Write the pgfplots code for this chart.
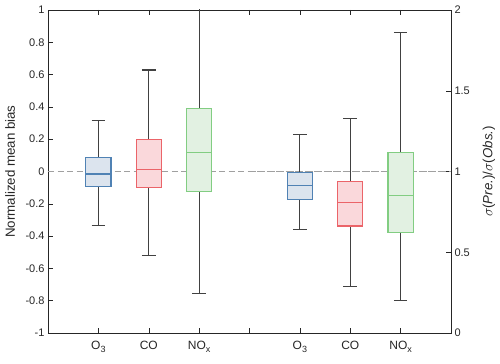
\documentclass[border=0pt]{standalone}
\usepackage{pgfplots}
\pgfplotsset{compat=1.18}
\usepgfplotslibrary{statistics}
\usepackage{fontspec}
\setmainfont{Liberation Sans}
\definecolor{bEdge}{RGB}{80,130,180}
\definecolor{bFill}{RGB}{220,228,238}
\definecolor{rEdge}{RGB}{235,100,105}
\definecolor{rFill}{RGB}{250,216,219}
\definecolor{gEdge}{RGB}{130,205,130}
\definecolor{gFill}{RGB}{226,241,226}
\definecolor{axcol}{RGB}{38,38,38}
\definecolor{whisk}{RGB}{65,65,65}
\definecolor{dashc}{RGB}{160,160,160}
\newcommand{\sub}[1]{\raisebox{-3.5bp}{\fontsize{9bp}{9bp}\selectfont #1}}
\pgfplotsset{
  bp/.style n args={2}{draw=#1, line width=1.2pt, solid,
    boxplot/draw direction=y,
    boxplot/box extend=0.5, boxplot/whisker extend=0.27,
    boxplot/every box/.style={draw=#1, fill=#2, line width=1.2pt},
    boxplot/every whisker/.style={draw=whisk, line width=1.2pt},
    boxplot/every median/.style={draw=#1, line width=1.2pt}},
  common/.style={scale only axis, width=403bp, height=323bp,
    xmin=0, xmax=8, tick align=inside, major tick length=5bp,
    axis line style={axcol, line width=0.6pt},
    every tick/.style={axcol, line width=0.5pt},
    /pgf/number format/assume math mode=true,
    ticklabel style={font=\fontsize{11bp}{13bp}\selectfont, text=axcol},
    label style={font=\fontsize{13.3bp}{15bp}\selectfont, text=axcol}}
}
\begin{document}
\begin{tikzpicture}
\begin{axis}[common, name=ax,
  ymin=-1, ymax=1,
  ytick={-1,-0.8,-0.6,-0.4,-0.2,0,0.2,0.4,0.6,0.8,1},
  yticklabels={-1,-0.8,-0.6,-0.4,-0.2,0,0.2,0.4,0.6,0.8,1},
  ytick pos=left,
  xtick={1,2,3,4,5,6,7}, xtick pos=both,
  xticklabels={O\sub{3},CO,NO\sub{x},,O\sub{3},CO,NO\sub{x}},
  xticklabel style={font=\fontsize{12bp}{14bp}\selectfont, yshift=-7bp, anchor=base, yshift=-9bp},
  ylabel={Normalized mean bias},
  ylabel style={at={(axis description cs:0,0.5)}, anchor=center, yshift=38bp},
  clip=true]
\addplot[dashc, line width=0.7pt, dash pattern=on 6bp off 3.5bp] coordinates {(0,0) (8,0)};
\addplot[bp={bEdge}{bFill}, boxplot prepared={draw position=1,
  lower whisker=-0.334, lower quartile=-0.091, median=-0.016,
  upper quartile=0.087, upper whisker=0.315}] coordinates {};
\addplot[bp={rEdge}{rFill}, boxplot prepared={draw position=2,
  lower whisker=-0.518, lower quartile=-0.101, median=0.012,
  upper quartile=0.196, upper whisker=0.629}] coordinates {};
\addplot[bp={gEdge}{gFill}, boxplot prepared={draw position=3,
  lower whisker=-0.755, lower quartile=-0.122, median=0.120,
  upper quartile=0.390, upper whisker=1.05}] coordinates {};
\end{axis}
\begin{axis}[common,
  ymin=0, ymax=2,
  ytick={0,0.5,1,1.5,2},
  yticklabels={0,0.5,1,1.5,2},
  axis y line*=right, axis x line=none,
  ylabel={$\sigma$(\textit{Pre.})/$\sigma$(\textit{Obs.})},
  ylabel style={at={(axis description cs:1,0.5)}, anchor=center, yshift=-38bp}]
\addplot[dashc, line width=0.7pt, dash pattern=on 6bp off 3.5bp] coordinates {(4,1) (8,1)};
\addplot[bp={bEdge}{bFill}, boxplot prepared={draw position=5,
  lower whisker=0.641, lower quartile=0.829, median=0.911,
  upper quartile=0.996, upper whisker=1.229}] coordinates {};
\addplot[bp={rEdge}{rFill}, boxplot prepared={draw position=6,
  lower whisker=0.289, lower quartile=0.662, median=0.808,
  upper quartile=0.938, upper whisker=1.330}] coordinates {};
\addplot[bp={gEdge}{gFill}, boxplot prepared={draw position=7,
  lower whisker=0.200, lower quartile=0.623, median=0.852,
  upper quartile=1.118, upper whisker=1.862}] coordinates {};
\end{axis}
\pgfresetboundingbox
\path ([shift={(-48bp,-30bp)}]ax.south west) rectangle ([shift={(49bp,10bp)}]ax.north east);
\end{tikzpicture}
\end{document}
